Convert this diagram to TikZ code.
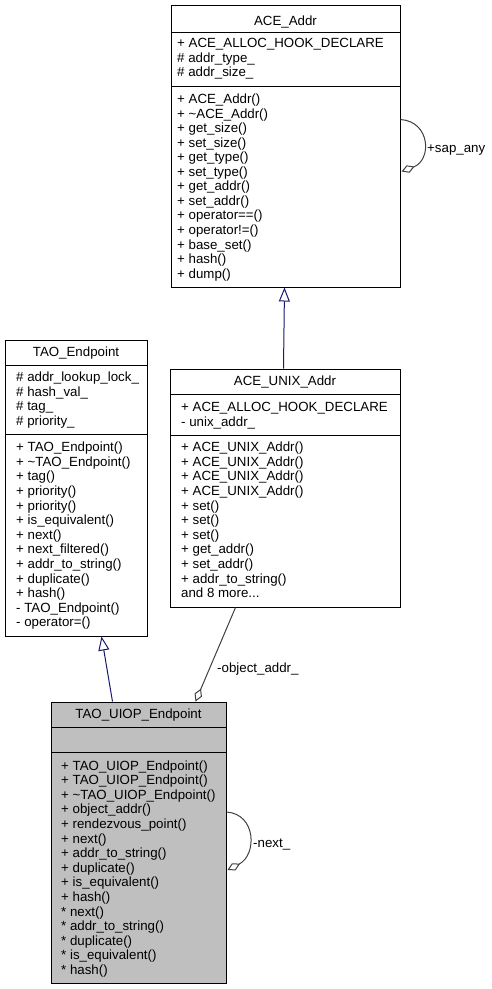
\documentclass[tikz,border=0pt]{standalone}
\usepackage{fontspec}
\setmainfont{Liberation Sans}
\usetikzlibrary{arrows.meta,calc}
\definecolor{inhcol}{HTML}{191970}
\definecolor{aggcol}{HTML}{404040}
\definecolor{uiopfill}{HTML}{BFBFBF}
\tikzset{
  classbox/.style={draw=black, line width=1pt, rectangle, inner sep=0pt},
  sepline/.style={draw=black, line width=1pt},
  member/.style={anchor=base west, inner sep=0pt, font=\fontsize{13.3pt}{14.6pt}\selectfont},
  ctitle/.style={anchor=base, inner sep=0pt, font=\fontsize{13.3pt}{14.6pt}\selectfont},
  elabel/.style={anchor=base west, inner sep=0pt, font=\fontsize{13.3pt}{14.6pt}\selectfont},
  inherit/.style={draw=inhcol, line width=1pt, -{Triangle[open, length=14pt, width=11pt]}},
  agg/.style={draw=aggcol, line width=1pt, -{Diamond[open, length=14pt, width=8pt]}}
}
\begin{document}
\begin{tikzpicture}[x=1pt, y=-1pt]
\useasboundingbox (0,0) rectangle (491,989);

% ACE_Addr
\node[classbox, minimum width=229pt, minimum height=282pt] (aceaddr) at (285.5,146) {};
\draw[sepline] (171,32) -- (400,32);
\draw[sepline] (171,86) -- (400,86);
\node[ctitle] (aceaddr-t) at (285.5,25) {ACE\_Addr};
\foreach \t [count=\i from 0] in {+ ACE\_ALLOC\_HOOK\_DECLARE, \# addr\_type\_, \# addr\_size\_}
  \node[member] (aceaddr-a\i) at (177,{47.7+14.5*\i}) {\t};
\foreach \t [count=\i from 0] in {+ ACE\_Addr(), + \textasciitilde ACE\_Addr(), + get\_size(), + set\_size(), + get\_type(), + set\_type(), + get\_addr(), + set\_addr(), + operator==(), + operator!=(), + base\_set(), + hash(), + dump()}
  \node[member] (aceaddr-m\i) at (177,{103.5+14.55*\i}) {\t};

% TAO_Endpoint
\node[classbox, minimum width=142pt, minimum height=296pt] (taoend) at (76,488) {};
\draw[sepline] (5,365) -- (147,365);
\draw[sepline] (5,434) -- (147,434);
\node[ctitle] (taoend-t) at (76,356.7) {TAO\_Endpoint};
\foreach \t [count=\i from 0] in {\# addr\_lookup\_lock\_, \# hash\_val\_, \# tag\_, \# priority\_}
  \node[member] (taoend-a\i) at (16,{381.7+14.6*\i}) {\t};
\foreach \t [count=\i from 0] in {+ TAO\_Endpoint(), + \textasciitilde TAO\_Endpoint(), + tag(), + priority(), + priority(), + is\_equivalent(), + next(), + next\_filtered(), + addr\_to\_string(), + duplicate(), + hash(), - TAO\_Endpoint(), - operator=()}
  \node[member] (taoend-m\i) at (16,{451.7+14.6*\i}) {\t};

% ACE_UNIX_Addr
\node[classbox, minimum width=230pt, minimum height=238pt] (unix) at (285,488) {};
\draw[sepline] (170,394) -- (400,394);
\draw[sepline] (170,435) -- (400,435);
\node[ctitle] (unix-t) at (285,385.7) {ACE\_UNIX\_Addr};
\foreach \t [count=\i from 0] in {+ ACE\_ALLOC\_HOOK\_DECLARE, - unix\_addr\_}
  \node[member] (unix-a\i) at (181,{411.7+14.6*\i}) {\t};
\foreach \t [count=\i from 0] in {+ ACE\_UNIX\_Addr(), + ACE\_UNIX\_Addr(), + ACE\_UNIX\_Addr(), + ACE\_UNIX\_Addr(), + set(), + set(), + set(), + get\_addr(), + set\_addr(), + addr\_to\_string()}
  \node[member] (unix-m\i) at (181,{451.7+14.6*\i}) {\t};
\node[member] (unix-m10) at (181,597.7) {and 8 more...};

% TAO_UIOP_Endpoint
\node[classbox, fill=uiopfill, minimum width=175pt, minimum height=281pt] (uiop) at (138.5,842.5) {};
\draw[sepline] (51,727) -- (226,727);
\draw[sepline] (51,752) -- (226,752);
\node[ctitle] (uiop-t) at (138.5,718.3) {TAO\_UIOP\_Endpoint};
\foreach \t [count=\i from 0] in {+ TAO\_UIOP\_Endpoint(), + TAO\_UIOP\_Endpoint(), + \textasciitilde TAO\_UIOP\_Endpoint(), + object\_addr(), + rendezvous\_point(), + next(), + addr\_to\_string(), + duplicate(), + is\_equivalent(), + hash(), * next(), * addr\_to\_string(), * duplicate(), * is\_equivalent(), * hash()}
  \node[member] (uiop-m\i) at (61,{770+14.6*\i}) {\t};

% Connectors
\draw[inherit] ([xshift=114pt]unix.north west) -- ([xshift=114pt]aceaddr.south west);
\draw[inherit] ([xshift=62pt]uiop.north west) -- ([xshift=97pt]taoend.south west);
\draw[agg] ([xshift=66pt]unix.south west) -- ([xshift=145pt]uiop.north west);
\node[elabel] (lbl-obj) at (217,672) {-object\_addr\_};

% self loops
\draw[agg] ([yshift=-115pt]aceaddr.north east) .. controls +(30,2) and (432,160) .. ([yshift=-167pt,xshift=1pt]aceaddr.north east);
\node[elabel] (lbl-sap) at (427,152) {+sap\_any};
\draw[agg] ([yshift=-110.5pt]uiop.north east) .. controls +(30,2) and (257,855) .. ([yshift=-168.5pt,xshift=1pt]uiop.north east);
\node[elabel] (lbl-next) at (253,847) {-next\_};
\end{tikzpicture}
\end{document}
